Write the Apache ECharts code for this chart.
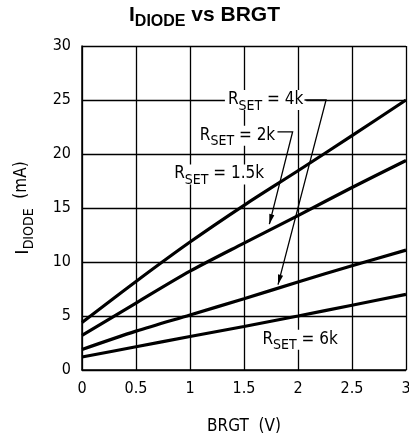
<!DOCTYPE html>
<html><head><meta charset="utf-8">
<script src="https://cdn.jsdelivr.net/npm/echarts@6/dist/echarts.min.js"></script>
<style>html,body{margin:0;padding:0;background:#fff}#c{width:409px;height:442px}</style>
</head><body><div id="c"></div>
<script>
// BRGT (V) sample points
const brgt = [0, 0.5, 1, 1.5, 2, 2.5, 3];
// I_DIODE (mA) for each RSET
const rset1p5k = [4.4, 8.2, 11.85, 15.25, 18.45, 21.7, 25.0];
const rset2k   = [3.2, 6.2, 9.15, 11.75, 14.3, 16.9, 19.4];
const rset4k   = [1.9, 3.6, 5.1, 6.6, 8.15, 9.65, 11.1];
const rset6k   = [1.2, 2.15, 3.1, 4.03, 5.0, 6.0, 7.0];
// annotation labels (data coordinates of text centre)
const labelTexts = ['4k', '2k', '1.5k', '6k'];
const labelAt = [[1.70, 25.0], [1.44, 21.7], [1.27, 18.1], [2.02, 2.8]];
// leader lines (data coordinates), last point is arrow tip
const leaders = [
  [[2.06, 25.0], [2.26, 25.0], [1.815, 7.9]],
  [[1.81, 22.05], [1.95, 22.05], [1.735, 13.5]]
];

const FONT = '"DejaVu Sans Condensed", "DejaVu Sans", sans-serif';
const chart = echarts.init(document.getElementById('c'), null, {renderer: 'canvas'});
const mk = (arr, name) => ({
  name, type: 'line', data: brgt.map((x, i) => [x, arr[i]]),
  showSymbol: false, smooth: 0.3,
  lineStyle: {color: '#000', width: 3.2}, z: 3
});
chart.setOption({
  animation: false,
  backgroundColor: '#fff',
  title: {
    text: '{i|I}{s|DIODE}{i| vs BRGT}', left: 'center', top: 0,
    textStyle: {
      rich: {
        i: {fontFamily: '"Liberation Sans", Arial, sans-serif', fontWeight: 'bold', fontSize: 21, color: '#000', lineHeight: 21, verticalAlign: 'top'},
        s: {fontFamily: '"Liberation Sans", Arial, sans-serif', fontWeight: 'bold', fontSize: 16, color: '#000', lineHeight: 16, padding: [9, 0, 0, 0], verticalAlign: 'top'}
      }
    }
  },
  grid: {left: 82, right: 3, top: 46, bottom: 72, containLabel: false, outerBoundsMode: 'none'},
  xAxis: {
    type: 'value', min: 0, max: 3, interval: 0.5,
    name: 'BRGT  (V)', nameLocation: 'middle', nameGap: 48,
    nameTextStyle: {fontFamily: FONT, fontSize: 17, color: '#000'},
    axisLine: {lineStyle: {color: '#000', width: 1.5}},
    axisTick: {show: false},
    axisLabel: {fontFamily: FONT, fontSize: 16, color: '#000', margin: 11},
    splitLine: {show: true, lineStyle: {color: '#000', width: 1.3}}
  },
  yAxis: {
    type: 'value', min: 0, max: 30, interval: 5,
    name: '{i|I}{s|DIODE}{r|  (mA)}', nameLocation: 'middle', nameGap: 50,
    nameTextStyle: {
      rich: {
        i: {fontFamily: '"Liberation Sans", Arial, sans-serif', fontSize: 19, color: '#000', lineHeight: 19, verticalAlign: 'top'},
        s: {fontFamily: FONT, fontSize: 14, color: '#000', lineHeight: 14, padding: [9, 0, 0, 0], verticalAlign: 'top'},
        r: {fontFamily: FONT, fontSize: 17, color: '#000', lineHeight: 19, verticalAlign: 'top'}
      }
    },
    axisLine: {show: true, lineStyle: {color: '#000', width: 1.5}},
    axisTick: {show: false},
    axisLabel: {fontFamily: FONT, fontSize: 16, color: '#000', margin: 11},
    splitLine: {show: true, lineStyle: {color: '#000', width: 1.3}}
  },
  series: [mk(rset1p5k, '1.5k'), mk(rset2k, '2k'), mk(rset4k, '4k'), mk(rset6k, '6k')]
});

function px(p) { return chart.convertToPixel({gridIndex: 0}, p); }
const graphics = [];
labelTexts.forEach((t, i) => {
  const c = px(labelAt[i]);
  graphics.push({
    type: 'text', x: c[0], y: c[1], z: 10,
    style: {
      text: '{r|R}{s|SET}{r| = ' + t + '}',
      align: 'center', verticalAlign: 'middle',
      backgroundColor: '#fff', padding: [1, 3, 1, 3],
      rich: {
        r: {fontFamily: FONT, fontSize: 17, fill: '#000', lineHeight: 18, verticalAlign: 'top'},
        s: {fontFamily: FONT, fontSize: 14, fill: '#000', lineHeight: 14, padding: [8, 0, 0, 0], verticalAlign: 'top'}
      }
    }
  });
});
leaders.forEach(L => {
  const pts = L.map(px);
  graphics.push({type: 'polyline', z: 11, shape: {points: pts}, style: {stroke: '#000', lineWidth: 1.3, fill: null}});
  const a = pts[pts.length - 2], b = pts[pts.length - 1];
  const dx = b[0] - a[0], dy = b[1] - a[1], len = Math.hypot(dx, dy);
  const ux = dx / len, uy = dy / len, hl = 10, hw = 2.6;
  const bx = b[0] - ux * hl, by = b[1] - uy * hl;
  graphics.push({type: 'polygon', z: 11, shape: {points: [b, [bx - uy * hw, by + ux * hw], [bx + uy * hw, by - ux * hw]]}, style: {fill: '#000'}});
});
chart.setOption({graphic: graphics});
</script>
</body></html>
